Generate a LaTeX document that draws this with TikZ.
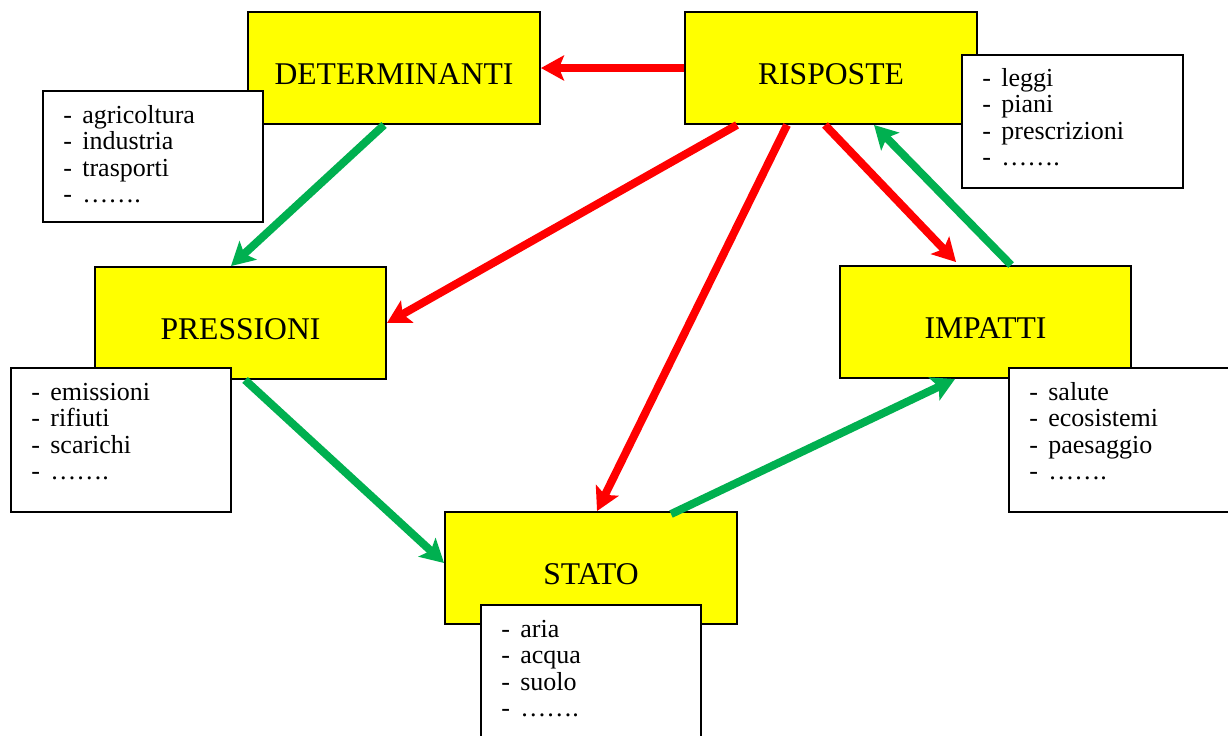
\documentclass[tikz,border=0pt]{standalone}
\usepackage{fontspec}
\setmainfont{Liberation Serif}
\usetikzlibrary{arrows.meta,calc,fit}
\definecolor{boxyellow}{RGB}{255,255,0}
\definecolor{flowred}{RGB}{255,0,0}
\definecolor{flowgreen}{RGB}{0,176,80}

% one bulleted line of a list box: dash, gap, word
\newcommand\listline[1]{\makebox[10.8pt][l]{-}#1}
% a list box body: lines separated by \\
\newcommand\listbody[1]{\parbox[t]{6cm}{\raggedright\fontsize{14.8pt}{15.14pt}\selectfont #1}}

\begin{document}
\begin{tikzpicture}[x=0.02cm,y=-0.02cm,
  stage/.style={draw=black, line width=1.1pt, fill=boxyellow, inner sep=0pt},
  stagetext/.style={anchor=base, inner sep=0pt, font=\fontsize{18pt}{21pt}\selectfont},
  listbox/.style={draw=black, line width=1.1pt, fill=white, inner sep=0pt},
  listtext/.style={anchor=base west, inner sep=0pt},
  flow/.style={line width=0.16cm, -{Stealth[length=0.46cm,width=0.5cm,inset=0.1cm]}},
  redflow/.style={flow, draw=flowred},
  greenflow/.style={flow, draw=flowgreen}]

\clip (0,0) rectangle (1228,735);
\fill[white] (0,0) rectangle (1228,735);

% the five DPSIR stages
\node[stage, fit={(248,12)(540,124)}] (det) {};
\node[stage, fit={(685,12)(977,124)}] (ris) {};
\node[stage, fit={(95,267)(386,379)}] (pre) {};
\node[stage, fit={(840,266)(1131,378)}] (imp) {};
\node[stage, fit={(445,512)(737,624)}] (sta) {};

\node[stagetext] (dett) at ($(det.center)+(0,16)$) {DETERMINANTI};
\node[stagetext] (rist) at ($(ris.center)+(0,16)$) {RISPOSTE};
\node[stagetext] (pret) at ($(pre.center)+(0,16)$) {PRESSIONI};
\node[stagetext] (impt) at ($(imp.center)+(0,16)$) {IMPATTI};
\node[stagetext] (stat) at ($(sta.center)+(0,16)$) {STATO};

% flows between stages
\draw[redflow] (ris.west) -- (det.east);
\draw[greenflow] ($(det.south west)+(137,0)$) -- ($(pre.north west)+(137,0)$);
\draw[redflow] ($(ris.south west)+(53,0)$) -- (pre.east);
\draw[redflow] ($(ris.south west)+(103,0)$) -- ($(sta.north west)+(153,0)$);
\draw[redflow] ($(ris.south west)+(141,0)$) -- ($(imp.north west)+(117,-3)$);
\draw[greenflow] ($(imp.north west)+(172,0)$) -- ($(ris.south west)+(190,0)$);
\draw[greenflow] ($(pre.south west)+(151,0)$) -- ($(sta.west)+(0,-5)$);
\draw[greenflow] ($(sta.north west)+(227,3)$) -- ($(imp.south west)+(116,0)$);

% example lists attached to each stage
\node[listbox, fit={(43,91)(263,222)}] (detl) {};
\node[listtext] (detlt) at ($(detl.north west)+(21,33)$)
  {\listbody{\listline{agricoltura}\\\listline{industria}\\\listline{trasporti}\\\listline{…….}}};

\node[listbox, fit={(962,55)(1183,188)}] (risl) {};
\node[listtext] (rislt) at ($(risl.north west)+(21,32)$)
  {\listbody{\listline{leggi}\\\listline{piani}\\\listline{prescrizioni}\\\listline{…….}}};

\node[listbox, fit={(11,368)(231,512)}] (prel) {};
\node[listtext] (prelt) at ($(prel.north west)+(21,33)$)
  {\listbody{\listline{emissioni}\\\listline{rifiuti}\\\listline{scarichi}\\\listline{…….}}};

\node[listbox, fit={(1009,368)(1240,512)}] (impl) {};
\node[listtext] (implt) at ($(impl.north west)+(21,33)$)
  {\listbody{\listline{salute}\\\listline{ecosistemi}\\\listline{paesaggio}\\\listline{…….}}};

\node[listbox, fit={(481,605)(701,750)}] (stal) {};
\node[listtext] (stalt) at ($(stal.north west)+(21,33)$)
  {\listbody{\listline{aria}\\\listline{acqua}\\\listline{suolo}\\\listline{…….}}};
\end{tikzpicture}
\end{document}
